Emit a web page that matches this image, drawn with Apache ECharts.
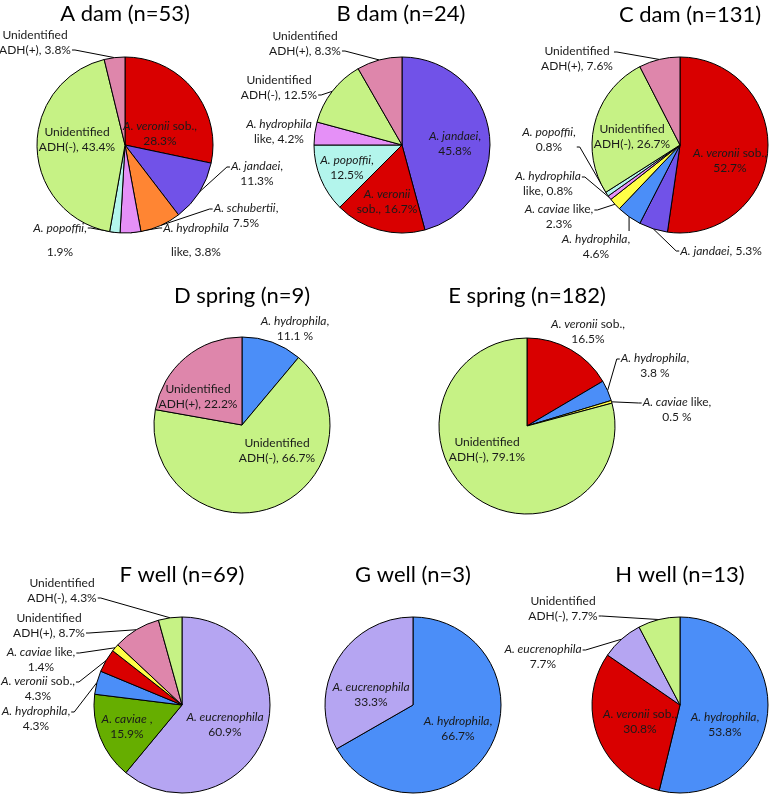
<!DOCTYPE html>
<html><head><meta charset="utf-8">
<script src="https://cdn.jsdelivr.net/npm/echarts@6/dist/echarts.min.js"></script>
<style>html,body{margin:0;padding:0;background:#fff}#c{width:771px;height:796px}</style>
</head><body><div id="c"></div>
<script>
// ---------- data ----------
const titleA = 'A dam (n=53)';
const namesA = ['A. veronii sob.', 'A. jandaei', 'A. schubertii', 'A. hydrophila like', 'A. popoffii', 'Unidentified ADH(-)', 'Unidentified ADH(+)'];
const valuesA = [28.3, 11.3, 7.5, 3.8, 1.9, 43.4, 3.8];
const labelsA = ['{i|A. veronii} sob.,\n{v}%', '{i|A. jandaei},\n{v}%', '{i|A. schubertii},\n{v}%', '{i|A. hydrophila}\nlike, {v}%', '{i|A. popoffii},\n{v}%', 'Unidentified\nADH(-), {v}%', 'Unidentified\nADH(+), {v}%'];

const titleB = 'B dam (n=24)';
const namesB = ['A. jandaei', 'A. veronii sob.', 'A. popoffii', 'A. hydrophila like', 'Unidentified ADH(-)', 'Unidentified ADH(+)'];
const valuesB = [45.8, 16.7, 12.5, 4.2, 12.5, 8.3];
const labelsB = ['{i|A. jandaei},\n{v}%', '{i|A. veronii}\nsob., {v}%', '{i|A. popoffii},\n{v}%', '{i|A. hydrophila}\nlike, {v}%', 'Unidentified\nADH(-), {v}%', 'Unidentified\nADH(+), {v}%'];

const titleC = 'C dam (n=131)';
const namesC = ['A. veronii sob.', 'A. jandaei', 'A. hydrophila', 'A. caviae like', 'A. hydrophila like', 'A. popoffii', 'Unidentified ADH(-)', 'Unidentified ADH(+)'];
const valuesC = [52.7, 5.3, 4.6, 2.3, 0.8, 0.8, 26.7, 7.6];
const labelsC = ['{i|A. veronii} sob.,\n{v}%', '{i|A. jandaei}, {v}%', '{i|A. hydrophila},\n{v}%', '{i|A. caviae} like,\n{v}%', '{i|A. hydrophila}\nlike, {v}%', '{i|A. popoffii},\n{v}%', 'Unidentified\nADH(-), {v}%', 'Unidentified\nADH(+), {v}%'];

const titleD = 'D spring (n=9)';
const namesD = ['A. hydrophila', 'Unidentified ADH(-)', 'Unidentified ADH(+)'];
const valuesD = [11.1, 66.7, 22.2];
const labelsD = ['{i|A. hydrophila},\n{v} %', 'Unidentified\nADH(-), {v}%', 'Unidentified\nADH(+), {v}%'];

const titleE = 'E spring (n=182)';
const namesE = ['A. veronii sob.', 'A. hydrophila', 'A. caviae like', 'Unidentified ADH(-)'];
const valuesE = [16.5, 3.8, 0.5, 79.1];
const labelsE = ['{i|A. veronii} sob.,\n{v}%', '{i|A. hydrophila},\n{v} %', '{i|A. caviae} like,\n{v} %', 'Unidentified\nADH(-), {v}%'];

const titleF = 'F well (n=69)';
const namesF = ['A. eucrenophila', 'A. caviae', 'A. hydrophila', 'A. veronii sob.', 'A. caviae like', 'Unidentified ADH(+)', 'Unidentified ADH(-)'];
const valuesF = [60.9, 15.9, 4.3, 4.3, 1.4, 8.7, 4.3];
const labelsF = ['{i|A. eucrenophila}\n{v}%', '{i|A. caviae} ,\n{v}%', '{i|A. hydrophila},\n{v}%', '{i|A. veronii} sob.,\n{v}%', '{i|A. caviae} like,\n{v}%', 'Unidentified\nADH(+), {v}%', 'Unidentified\nADH(-), {v}%'];

const titleG = 'G well (n=3)';
const namesG = ['A. hydrophila', 'A. eucrenophila'];
const valuesG = [66.7, 33.3];
const labelsG = ['{i|A. hydrophila},\n{v}%', '{i|A. eucrenophila}\n{v}%'];

const titleH = 'H well (n=13)';
const namesH = ['A. hydrophila', 'A. veronii sob.', 'A. eucrenophila', 'Unidentified ADH(-)'];
const valuesH = [53.8, 30.8, 7.7, 7.7];
const labelsH = ['{i|A. hydrophila},\n{v}%', '{i|A. veronii} sob.,\n{v}%', '{i|A. eucrenophila}\n{v}%', 'Unidentified\nADH(-), {v}%'];

// ---------- layout & style ----------
const colorMap = {
  'A. veronii sob.': '#d90000',
  'A. jandaei': '#7152e8',
  'A. schubertii': '#ff8533',
  'A. hydrophila like': '#e590f7',
  'A. popoffii': '#b3f5ec',
  'Unidentified ADH(-)': '#c6f285',
  'Unidentified ADH(+)': '#de86ab',
  'A. hydrophila': '#4b8ef8',
  'A. caviae like': '#ffff47',
  'A. eucrenophila': '#b5a5f2',
  'A. caviae': '#66ae00'
};
const R = 88;
// label centre [x, y, lineHeight, leader attach dy]; leader line flag
const posA = [[160,134],[257,174,0,-7],[246,216,0,-7],[196,240,24,-12],[60,240,24,-12],[77,140],[35,43,0,7]];
const lineA = [0,1,1,1,1,0,1];
const posB = [[455,144],[387,202],[347,168],[279,132],[279,88,0,7],[305,44,0,7]];
const lineB = [0,0,0,0,1,1];
const posC = [[730,161],[721,251],[596,247],[559,217,0,-7],[548,184,0,-7],[549,140,0,7],[632,137],[577,59,0,-7]];
const lineC = [0,1,1,1,1,1,0,1];
const posD = [[295,329],[277,451],[198,397]];
const lineD = [0,0,0];
const posE = [[588,332],[655,366,0,-7],[677,410,0,-7],[487,450]];
const lineE = [0,1,1,0];
const posF = [[225,725],[127,727],[36,719,0,-7],[38,689,0,-7],[41,660,0,-7],[49,626,0,7],[62,591,0,7]];
const lineF = [0,0,1,1,1,1,1];
const posG = [[458,729],[371,695]];
const lineG = [0,0];
const posH = [[725,725],[640,722],[543,657,0,-7],[563,609,0,7]];
const lineH = [0,0,1,1];

const pies = [
  {title: titleA, names: namesA, values: valuesA, labels: labelsA, center: [125,145], tpos: [125,14], pos: posA, line: lineA},
  {title: titleB, names: namesB, values: valuesB, labels: labelsB, center: [402,145], tpos: [401,14], pos: posB, line: lineB},
  {title: titleC, names: namesC, values: valuesC, labels: labelsC, center: [680,145], tpos: [690,15], pos: posC, line: lineC},
  {title: titleD, names: namesD, values: valuesD, labels: labelsD, center: [242,425], tpos: [242,296], pos: posD, line: lineD},
  {title: titleE, names: namesE, values: valuesE, labels: labelsE, center: [527,426], tpos: [527,296], pos: posE, line: lineE},
  {title: titleF, names: namesF, values: valuesF, labels: labelsF, center: [182,705], tpos: [182,575], pos: posF, line: lineF},
  {title: titleG, names: namesG, values: valuesG, labels: labelsG, center: [413,705], tpos: [413,575], pos: posG, line: lineG},
  {title: titleH, names: namesH, values: valuesH, labels: labelsH, center: [680,705], tpos: [680,575], pos: posH, line: lineH}
];

const FONT = 'Lato, "Open Sans", sans-serif';
const TXT = '#1a1a1a';
const FS = 12;

function makeLayout(p) {
  const total = p.values.reduce((a, b) => a + b, 0);
  const mids = []; let s = 0;
  p.values.forEach(v => { mids.push(s + v / 2); s += v; });
  return function (params) {
    const i = params.dataIndex;
    const x = p.pos[i][0], y = p.pos[i][1];
    const ady = p.pos[i][3] || 0;
    const out = {x: x, y: y, align: 'center', verticalAlign: 'middle'};
    if (p.line[i]) {
      const a = mids[i] / total * 2 * Math.PI;
      const px = p.center[0] + R * Math.sin(a);
      const py = p.center[1] - R * Math.cos(a);
      const w = params.labelRect.width, h = params.labelRect.height;
      const l = x - w / 2, r = x + w / 2, t = y - h / 2, b = y + h / 2;
      const ay = y + ady;
      let pts;
      if (px < l) pts = [[px, py], [l - 4, ay], [l - 1, ay]];
      else if (px > r) pts = [[px, py], [r + 4, ay], [r + 1, ay]];
      else if (py < t) pts = [[px, py], [px, t - 2], [px, t - 1]];
      else pts = [[px, py], [px, b + 2], [px, b + 1]];
      out.labelLinePoints = pts;
    }
    return out;
  };
}

const series = pies.map(p => ({
  type: 'pie',
  center: p.center,
  radius: R,
  startAngle: 90,
  clockwise: true,
  animation: false,
  avoidLabelOverlap: false,
  emphasis: {disabled: true},
  itemStyle: {borderColor: '#000', borderWidth: 1},
  labelLayout: makeLayout(p),
  data: p.names.map((n, i) => {
    const lh = p.pos[i][2] || 15;
    return {
      name: n,
      value: p.values[i],
      itemStyle: {color: colorMap[n]},
      label: {
        show: true,
        position: p.line[i] ? 'outside' : 'inside',
        formatter: () => p.labels[i].replace('{v}', p.values[i].toFixed(1)),
        fontFamily: FONT, fontSize: FS, color: TXT, lineHeight: lh, align: 'center',
        textBorderWidth: 0, textBorderColor: 'transparent', textShadowBlur: 0,
        rich: {i: {fontStyle: 'italic', fontFamily: FONT, fontSize: FS, color: TXT, lineHeight: lh, textBorderWidth: 0, textBorderColor: 'transparent'}}
      },
      labelLine: {show: !!p.line[i], smooth: false, lineStyle: {color: '#000', width: 1}}
    };
  })
}));

const graphic = pies.map(p => ({
  type: 'text', x: p.tpos[0], y: p.tpos[1],
  style: {text: p.title, fontFamily: FONT, fontSize: 22, fill: '#000', textAlign: 'center', textVerticalAlign: 'middle'}
}));

const chart = echarts.init(document.getElementById('c'), null, {renderer: 'canvas'});
chart.setOption({animation: false, backgroundColor: '#fff', graphic: graphic, series: series});
</script>
</body></html>
